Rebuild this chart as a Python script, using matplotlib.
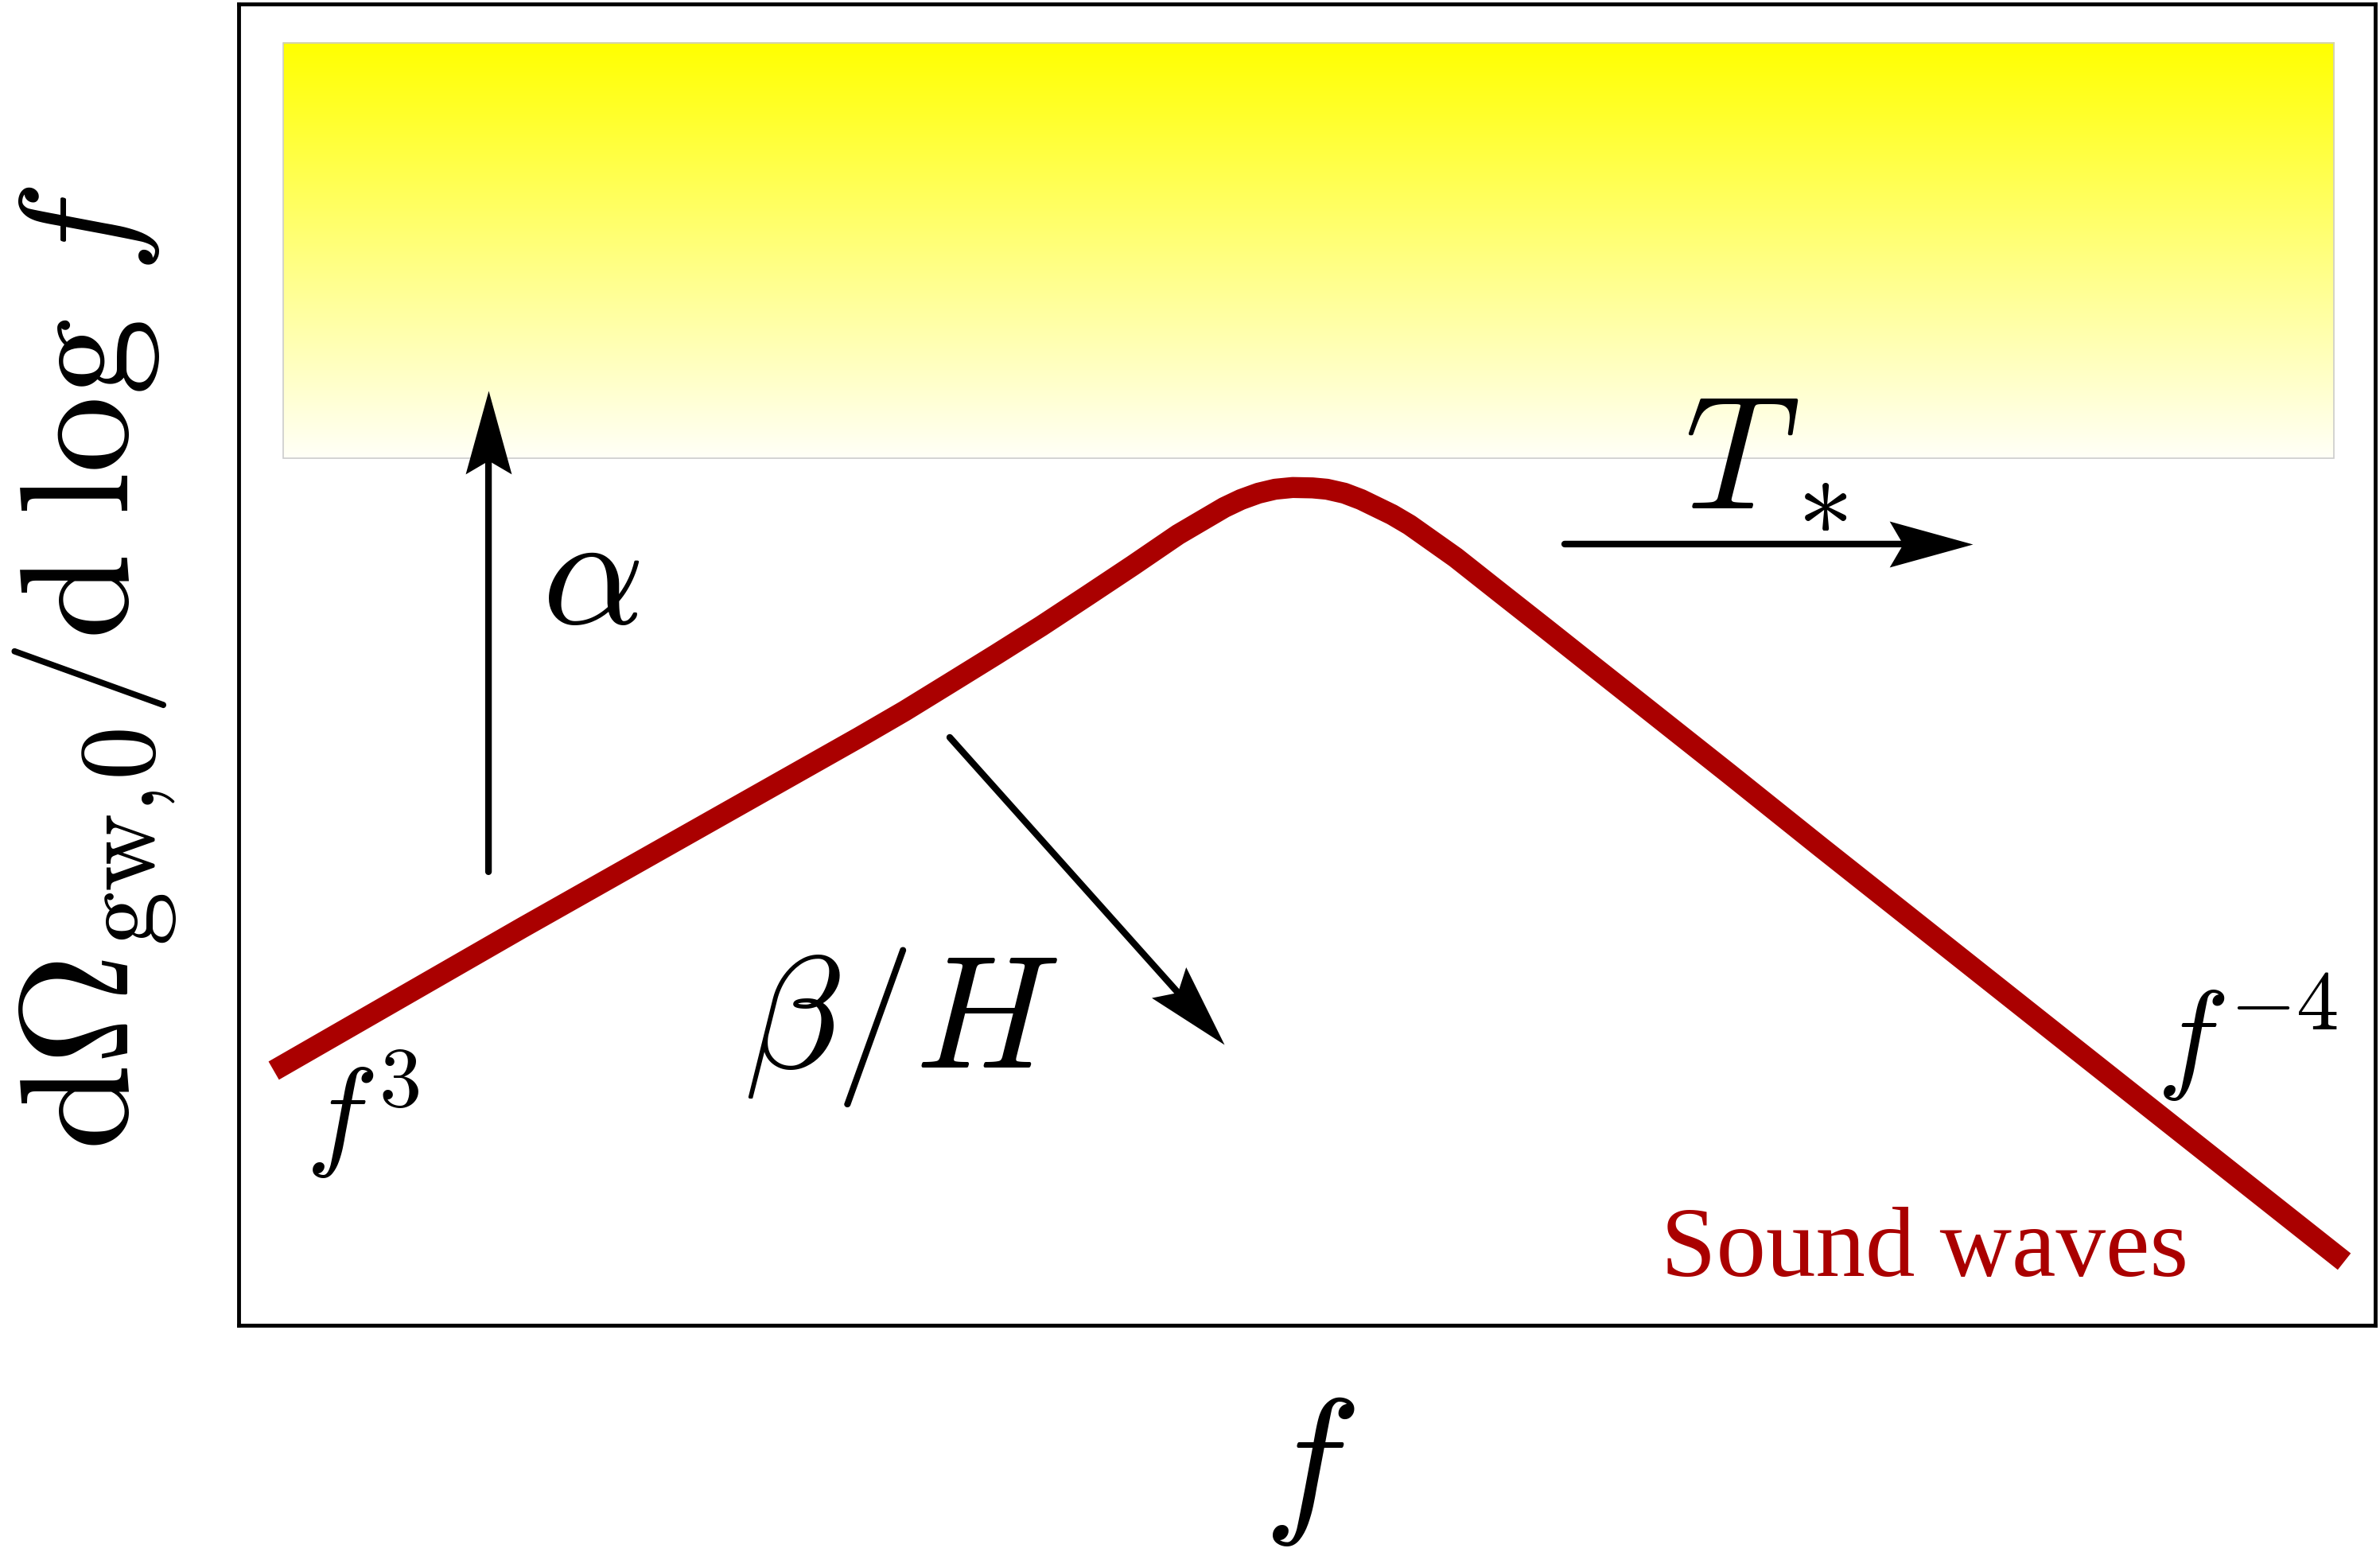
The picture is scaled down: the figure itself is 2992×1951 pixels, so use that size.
import numpy as np
import matplotlib
matplotlib.use('Agg')
import matplotlib.pyplot as plt
from matplotlib.colors import LinearSegmentedColormap
from matplotlib.patches import Rectangle, FancyArrowPatch
from matplotlib.markers import MarkerStyle
from matplotlib.path import Path
from matplotlib.transforms import Affine2D

plt.rcParams['mathtext.fontset'] = 'cm'

# schematic sound-wave spectrum (arbitrary units: log f, log Omega)
log_f = [0.0164, 0.1329, 0.2048, 0.2476, 0.2904, 0.3116, 0.3328, 0.3544, 0.3757,
         0.3972, 0.4185, 0.4397, 0.4613, 0.4691, 0.4773, 0.4851, 0.4933, 0.5026,
         0.5093, 0.5175, 0.5253, 0.5398, 0.5480, 0.5696, 0.5908, 0.6121, 0.6337,
         0.6549, 0.6977, 0.7405, 0.7833, 0.8608, 0.9855]
log_omega = [0.1927, 0.3010, 0.3667, 0.4058, 0.4449, 0.4648, 0.4859, 0.5075, 0.5292,
             0.5521, 0.5750, 0.5984, 0.6189, 0.6249, 0.6297, 0.6327, 0.6340, 0.6337,
             0.6327, 0.6297, 0.6249, 0.6135, 0.6057, 0.5810, 0.5539, 0.5268, 0.4991,
             0.4720, 0.4172, 0.3618, 0.3070, 0.2077, 0.0482]

# detector sensitivity band (x0, x1, y0, y1)
band = [0.0207, 0.9806, 0.6562, 0.9707]

# parameter arrows: (x_tail, y_tail, x_tip, y_tip)
arrow_alpha = (0.1169, 0.3432, 0.1169, 0.7074)
arrow_T = (0.6206, 0.5912, 0.8116, 0.5912)
arrow_beta = (0.3328, 0.4449, 0.4613, 0.2125)

RED = '#aa0000'

fig = plt.figure(figsize=(29.92, 19.51), dpi=100)
ax = fig.add_axes([0.1003, 0.1461, 0.8977, 0.8514])
ax.set_xlim(0, 1)
ax.set_ylim(0, 1)

# yellow -> white gradient band
cmap = LinearSegmentedColormap.from_list('band', [(1, 1, 0.97), (1, 1, 0)])
grad = np.linspace(0, 1, 256).reshape(-1, 1)
ax.imshow(grad, extent=band, origin='lower', cmap=cmap, aspect='auto', zorder=1)
ax.add_patch(Rectangle((band[0], band[2]), band[1] - band[0], band[3] - band[2],
                       fill=False, edgecolor='#cccccc', linewidth=1.2, zorder=2))

# spectrum
ax.plot(log_f, log_omega, color=RED, linewidth=19, solid_capstyle='butt',
        solid_joinstyle='round', zorder=3)

# arrows: straight shaft + stealth-like head as a rotated marker
head = Path([(0, 0), (-105, 29), (-88, 0), (-105, -29), (0, 0)],
            [Path.MOVETO, Path.LINETO, Path.LINETO, Path.LINETO, Path.CLOSEPOLY])
ax_w = fig.get_figwidth() * 0.8977
ax_h = fig.get_figheight() * 0.8514
for x0, y0, x1, y1 in (arrow_alpha, arrow_T, arrow_beta):
    ax.add_patch(FancyArrowPatch((x0, y0), (x1, y1), arrowstyle='-',
                                 color='black', linewidth=6,
                                 shrinkA=0, shrinkB=60, zorder=4))
    ang = np.degrees(np.arctan2((y1 - y0) * ax_h, (x1 - x0) * ax_w))
    ms = MarkerStyle(head, transform=Affine2D().rotate_deg(ang))
    ax.plot([x1], [y1], marker=ms, markersize=151, color='black',
            markeredgewidth=0, linestyle='none', zorder=5)

# labels
ax.text(0.1646, 0.5310, r'$\alpha$', fontsize=145, ha='center', va='baseline')
ax.text(0.7148, 0.6207, r'$T_*$', fontsize=145, ha='center', va='baseline')
ax.text(0.3100, 0.1951, r'$\beta/H$', fontsize=145, ha='center', va='baseline')
ax.text(0.0581, 0.1300, r'$f^3$', fontsize=110, ha='center', va='baseline')
ax.text(0.9400, 0.1884, r'$f^{-4}$', fontsize=110, ha='center', va='baseline')
ax.text(0.7891, 0.0373, 'Sound waves', fontsize=90, color=RED,
        family='Liberation Serif', ha='center', va='baseline')

ax.set_xticks([])
ax.set_yticks([])
for sp in ax.spines.values():
    sp.set_linewidth(3.5)
    sp.set_color('black')

fig.text(0.5501, 0.0251, r'$f$', fontsize=148, ha='center', va='baseline')
fig.text(0.0398, 0.5695, r'$\mathrm{d}\Omega_{\mathrm{gw},\!0}/\mathrm{d}\;\log\,f$',
         fontsize=140, rotation=90, ha='center', va='center')

fig.savefig('out.png', dpi=100, facecolor='white')
